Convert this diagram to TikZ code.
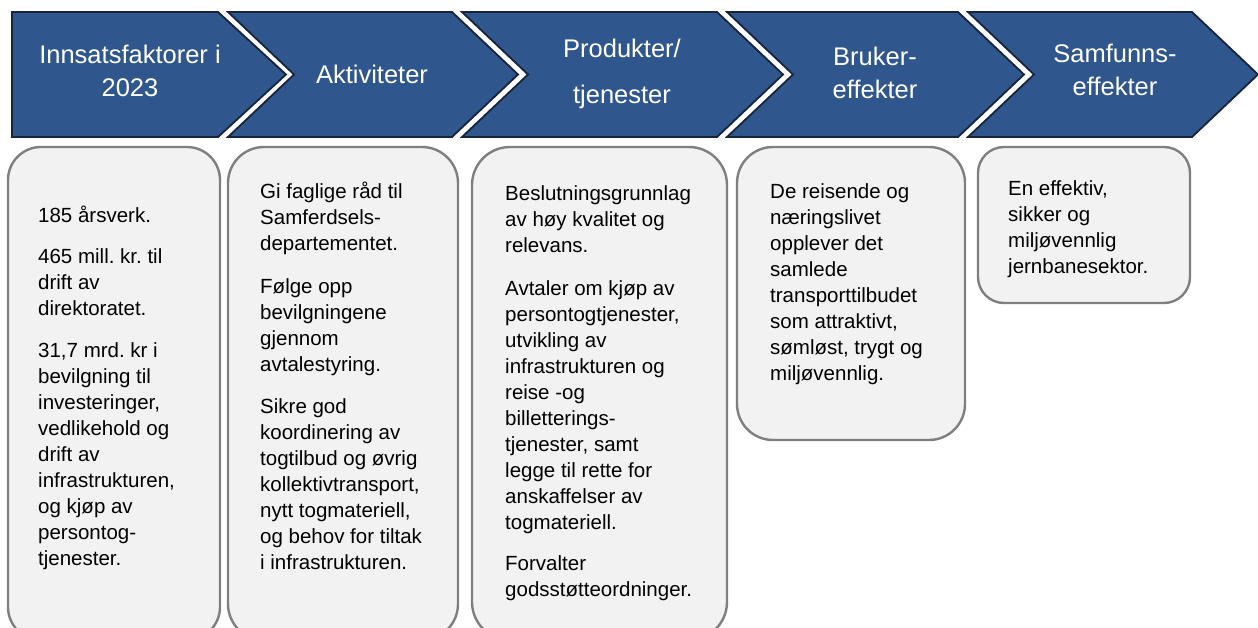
\documentclass[tikz,border=0pt]{standalone}
\usepackage{fontspec}
\setmainfont{Liberation Sans}
\frenchspacing
\definecolor{chevblue}{RGB}{47,86,141}
\definecolor{chevline}{RGB}{22,36,60}
\definecolor{boxfill}{RGB}{242,242,242}
\definecolor{boxline}{RGB}{127,127,127}
\tikzset{
  chevron/.style = {fill=chevblue, draw=chevline, line width=1.8pt, line join=miter},
  boxbg/.style = {fill=boxfill, draw=boxline, line width=2.4pt},
  headtext/.style = {text=white, font=\fontsize{25.5}{33}\selectfont, align=center, anchor=north, inner sep=0pt},
  boxtext/.style = {font=\fontsize{20.5}{26}\selectfont, align=left, anchor=north west, inner sep=0pt}
}
\newcommand{\headstrut}{\rule{0pt}{20pt}}
\newcommand{\boxstrut}{\rule{0pt}{17pt}}
\begin{document}
\begin{tikzpicture}[x=1pt, y=-1pt]
  \useasboundingbox (0,0) rectangle (1258,628);
  \clip (0,0) rectangle (1258,628);
  % chevrons
  \draw[chevron] (12,12) -- (218,12) -- (286,74.5) -- (218,137) -- (12,137) -- cycle;
  \foreach \l/\r in {228/452, 462/717, 727/958, 968/1192} {\draw[chevron] (\l,12) -- (\r,12) -- (\r+66,74.5) -- (\r,137)
                                                            -- (\l,137) -- (\l+66,74.5) -- cycle;};
  \node[headtext] (innsats) at (130,43) {\headstrut Innsatsfaktorer i\\2023};
  \node[headtext] (aktiv) at (372,63) {\headstrut Aktiviteter};
  \node[headtext] (produkt) at (622,37) {\headstrut Produkter/\\[13pt]tjenester};
  \node[headtext] (bruker) at (875,45) {\headstrut Bruker-\\effekter};
  \node[headtext] (samfunn) at (1115,42) {\headstrut Samfunns-\\effekter};
  % boxes
  \foreach \l/\r/\b/\rad in {8/220/640/33, 228/458/640/36, 472/727/640/38, 737/965/440/36, 978/1190/303/26} {
    \draw[boxbg, rounded corners=\rad pt] (\l,147) rectangle (\r,\b);};
  \node[boxtext] (innhold) at (38,205) {\boxstrut 185 årsverk.\\[15pt]
    465 mill. kr. til\\drift av\\direktoratet.\\[16pt]
    31,7 mrd. kr i\\bevilgning til\\investeringer,\\vedlikehold og\\drift av\\infrastrukturen,\\og kjøp av\\persontog-\\tjenester.};
  \node[boxtext] (aktivhold) at (260,181) {\boxstrut Gi faglige råd til\\Samferdsels-\\departementet.\\[17pt]
    Følge opp\\bevilgningene\\gjennom\\avtalestyring.\\[16pt]
    Sikre god\\koordinering av\\togtilbud og øvrig\\kollektivtransport,\\nytt togmateriell,\\og behov for tiltak\\i infrastrukturen.};
  \node[boxtext] (produkthold) at (505,183) {\boxstrut Beslutningsgrunnlag\\av høy kvalitet og\\relevans.\\[17pt]
    Avtaler om kjøp av\\persontogtjenester,\\utvikling av\\infrastrukturen og\\reise -og\\billetterings-\\tjenester, samt\\legge til rette for\\anskaffelser av\\togmateriell.\\[15pt]
    Forvalter\\godsstøtteordninger.};
  \node[boxtext] (brukerhold) at (770,181) {\boxstrut De reisende og\\næringslivet\\opplever det\\samlede\\transporttilbudet\\som attraktivt,\\sømløst, trygt og\\miljøvennlig.};
  \node[boxtext] (samfunnhold) at (1008,178) {\boxstrut En effektiv,\\sikker og\\miljøvennlig\\jernbanesektor.};
\end{tikzpicture}
\end{document}
